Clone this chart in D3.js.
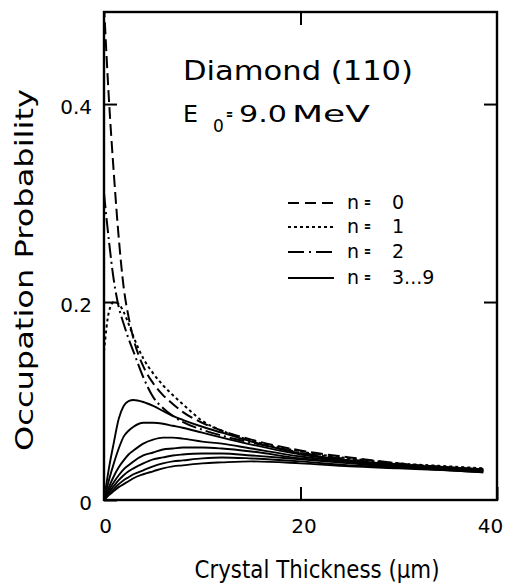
<!DOCTYPE html>
<html>
<head>
<meta charset="utf-8">
<script src="https://cdn.jsdelivr.net/npm/d3@7"></script>
<style>
  html, body { margin: 0; padding: 0; background: #fff; }
  svg { display: block; }
  text { font-family: "DejaVu Sans", sans-serif; fill: #000; }
</style>
</head>
<body>
<svg id="chart" width="510" height="586"></svg>
<script>
// ---- data ----
const thickness = [0, 0.5, 1, 1.5, 2, 2.5, 3, 4, 5, 6, 7, 8, 10, 12, 15, 20, 25, 30, 35, 38.6];
const n0 = [0.500,0.405,0.330,0.265,0.215,0.185,0.163,0.135,0.118,0.106,0.097,0.089,0.078,0.070,0.061,0.050,0.043,0.037,0.033,0.031];
const n1 = [0.150,0.190,0.200,0.198,0.190,0.178,0.165,0.143,0.128,0.116,0.106,0.097,0.080,0.070,0.060,0.049,0.042,0.037,0.034,0.032];
const n2 = [0.310,0.262,0.222,0.195,0.178,0.163,0.150,0.124,0.104,0.093,0.085,0.079,0.071,0.065,0.058,0.048,0.041,0.036,0.033,0.030];
const n3 = [0,0.032,0.058,0.082,0.095,0.100,0.101,0.099,0.095,0.090,0.085,0.081,0.074,0.068,0.059,0.047,0.040,0.036,0.033,0.031];
const n4 = [0,0.020,0.037,0.052,0.064,0.070,0.074,0.078,0.078,0.077,0.075,0.073,0.068,0.063,0.056,0.046,0.040,0.035,0.032,0.030];
const n5 = [0,0.013,0.024,0.033,0.040,0.046,0.050,0.057,0.061,0.063,0.063,0.062,0.059,0.057,0.052,0.044,0.039,0.035,0.032,0.030];
const n6 = [0,0.010,0.018,0.025,0.031,0.035,0.039,0.045,0.048,0.051,0.052,0.053,0.053,0.052,0.049,0.042,0.038,0.034,0.031,0.029];
const n7 = [0,0.008,0.014,0.020,0.025,0.029,0.032,0.037,0.041,0.043,0.045,0.046,0.047,0.047,0.045,0.041,0.037,0.033,0.031,0.029];
const n8 = [0,0.006,0.011,0.016,0.020,0.023,0.026,0.030,0.034,0.037,0.039,0.040,0.042,0.043,0.042,0.039,0.035,0.033,0.030,0.028];
const n9 = [0,0.005,0.009,0.013,0.016,0.019,0.022,0.026,0.029,0.032,0.034,0.035,0.037,0.038,0.039,0.037,0.034,0.032,0.030,0.028];
const xTicks = [0, 20, 40];
const yTicks = [0, 0.2, 0.4];
const legendNames = ["n", "n", "n", "n"];
const legendValues = ["0", "1", "2", "3...9"];

// ---- layout ----
const svg = d3.select("#chart");
const L = 104, R = 497, T = 12, B = 500;
const x = d3.scaleLinear().domain([0, 40]).range([L, R]);
const y = d3.scaleLinear().domain([0, 0.493]).range([B, T]);

svg.append("rect").attr("width", 510).attr("height", 586).attr("fill", "#fff");

svg.append("defs").append("clipPath").attr("id", "clip")
  .append("rect").attr("x", L).attr("y", T).attr("width", R - L).attr("height", B - T);

const line = d3.line()
  .x((d, i) => x(thickness[i]))
  .y(d => y(d))
  .curve(d3.curveMonotoneX);

const series = [
  { vals: n0, dash: "12,5", w: 2 },
  { vals: n1, dash: "3,3", w: 2 },
  { vals: n2, dash: "15,4,2,4", w: 2 },
  { vals: n3, dash: null, w: 1.9 },
  { vals: n4, dash: null, w: 1.9 },
  { vals: n5, dash: null, w: 1.9 },
  { vals: n6, dash: null, w: 1.9 },
  { vals: n7, dash: null, w: 1.9 },
  { vals: n8, dash: null, w: 1.9 },
  { vals: n9, dash: null, w: 1.9 }
];

const g = svg.append("g").attr("clip-path", "url(#clip)");
series.forEach(s => {
  g.append("path")
    .attr("d", line(s.vals))
    .attr("fill", "none")
    .attr("stroke", "#000")
    .attr("stroke-width", s.w)
    .attr("stroke-dasharray", s.dash);
});

// ---- axes (inward ticks) ----
const fmtY = d => d === 0 ? "0" : d3.format(".1f")(d);
const axL = svg.append("g").attr("transform", `translate(${L},0)`)
  .call(d3.axisLeft(y).tickValues(yTicks).tickSize(-13).tickPadding(12).tickFormat(fmtY));
const axB = svg.append("g").attr("transform", `translate(0,${B})`)
  .call(d3.axisBottom(x).tickValues(xTicks).tickSize(-13).tickPadding(19).tickFormat(d3.format("d")));
const axT = svg.append("g").attr("transform", `translate(0,${T})`)
  .call(d3.axisTop(x).tickValues([20]).tickSize(-13).tickFormat(""));
const axR = svg.append("g").attr("transform", `translate(${R},0)`)
  .call(d3.axisRight(y).tickValues([0.2, 0.4]).tickSize(-13).tickFormat(""));

[axL, axB, axT, axR].forEach(a => {
  a.select(".domain").remove();
  a.selectAll(".tick line").attr("stroke", "#000").attr("stroke-width", 2);
  a.selectAll(".tick text").style("font-family", "DejaVu Sans, sans-serif").attr("font-size", 20).attr("fill", "#000");
});
axL.selectAll(".tick text").attr("dy", "0.45em");
axB.selectAll(".tick text").attr("dx", d => d === 40 ? -7 : (d === 20 ? 3 : 1));

// frame
svg.append("rect").attr("x", L).attr("y", T).attr("width", R - L).attr("height", B - T)
  .attr("fill", "none").attr("stroke", "#000").attr("stroke-width", 2.4);

// ---- axis titles ----
svg.append("text")
  .attr("transform", "translate(33,270) rotate(-90)")
  .attr("text-anchor", "middle")
  .attr("font-size", 24)
  .attr("textLength", 362).attr("lengthAdjust", "spacingAndGlyphs")
  .text("Occupation  Probability");

svg.append("text")
  .attr("x", 317).attr("y", 578)
  .attr("text-anchor", "middle")
  .attr("font-size", 24)
  .attr("textLength", 245).attr("lengthAdjust", "spacingAndGlyphs")
  .text("Crystal Thickness (\u03bcm)");

// ---- annotations ----
svg.append("text").attr("x", 183).attr("y", 80).attr("font-size", 27)
  .attr("textLength", 230).attr("lengthAdjust", "spacingAndGlyphs")
  .text("Diamond  (110)");
svg.append("text").attr("x", 183).attr("y", 122).attr("font-size", 23)
  .attr("textLength", 15).attr("lengthAdjust", "spacingAndGlyphs").text("E");
svg.append("text").attr("x", 213).attr("y", 132).attr("font-size", 17).text("0");
svg.append("text").attr("x", 226).attr("y", 119).attr("font-size", 14).attr("font-weight", "bold")
  .attr("textLength", 7).attr("lengthAdjust", "spacingAndGlyphs").text("=");
svg.append("text").attr("x", 239).attr("y", 122).attr("font-size", 23)
  .attr("textLength", 48).attr("lengthAdjust", "spacingAndGlyphs").text("9.0");
svg.append("text").attr("x", 292).attr("y", 122).attr("font-size", 23)
  .attr("textLength", 78).attr("lengthAdjust", "spacingAndGlyphs").text("MeV");

// ---- legend ----
const legY = [203, 227, 252, 278];
legendValues.forEach((val, i) => {
  const s = series[i];
  svg.append("line")
    .attr("x1", 288).attr("x2", 334).attr("y1", legY[i]).attr("y2", legY[i])
    .attr("stroke", "#000").attr("stroke-width", 2)
    .attr("stroke-dasharray", i === 0 ? "11,6" : (i === 2 ? "16,5,2,5" : s.dash));
  svg.append("text").attr("x", 347).attr("y", legY[i] + 6).attr("font-size", 19).text(legendNames[i]);
  svg.append("text").attr("x", 364).attr("y", legY[i] + 4).attr("font-size", 14).attr("font-weight", "bold")
    .attr("textLength", 7).attr("lengthAdjust", "spacingAndGlyphs").text("=");
  svg.append("text").attr("x", 392).attr("y", legY[i] + 6).attr("font-size", 19).text(val);
});
</script>
</body>
</html>
